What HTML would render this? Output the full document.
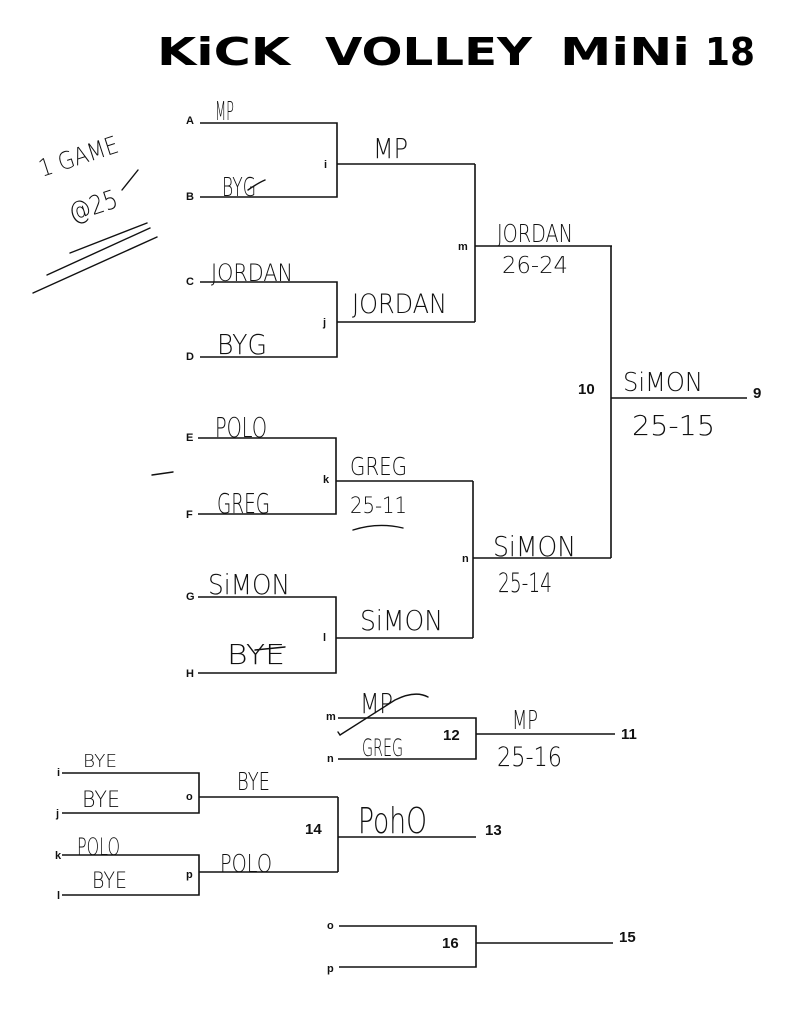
<!DOCTYPE html>
<html><head><meta charset="utf-8"><style>
html,body{margin:0;padding:0;background:#fff;}
svg{display:block;}
.l{stroke:#111;stroke-width:1.6;fill:none;}
.lb{font-family:"Liberation Sans",Arial,sans-serif;font-weight:bold;font-size:11px;fill:#111;}
.nb{font-family:"Liberation Sans",Arial,sans-serif;font-weight:bold;font-size:15px;fill:#111;}
.hw{font-family:"DejaVu Sans","Liberation Sans",Arial,sans-serif;font-weight:200;fill:#111;}
.tt{font-family:"DejaVu Sans","Liberation Sans",sans-serif;font-weight:bold;fill:#000;}
.pen{stroke:#111;stroke-width:1.4;fill:none;stroke-linecap:round;}
</style></head><body>
<svg width="800" height="1033" viewBox="0 0 800 1033" xmlns="http://www.w3.org/2000/svg">
<rect width="800" height="1033" fill="#fff"/>
<!-- Title -->
<text class="tt" x="157" y="65" font-size="38" textLength="133" lengthAdjust="spacingAndGlyphs">KiCK</text>
<text class="tt" x="325" y="65" font-size="38" textLength="207" lengthAdjust="spacingAndGlyphs">VOLLEY</text>
<text class="tt" x="560" y="65" font-size="38" textLength="130" lengthAdjust="spacingAndGlyphs">MiNi</text>
<text class="tt" x="705" y="65" font-size="38" textLength="50" lengthAdjust="spacingAndGlyphs">18</text>

<!-- Bracket lines -->
<path class="l" d="M200,123H337V197H200 M337,164H475"/>
<path class="l" d="M200,282H337V357H200 M337,322H475"/>
<path class="l" d="M475,164V322 M475,246H612"/>
<path class="l" d="M198,438H336V514H198 M336,481H473"/>
<path class="l" d="M198,597H336V673H198 M336,638H473"/>
<path class="l" d="M473,481V638 M473,558H611"/>
<path class="l" d="M611,246V558 M611,398H747"/>
<path class="l" d="M338,718H476V759H338 M476,734H615"/>
<path class="l" d="M62,773H199V813H62 M199,797H338"/>
<path class="l" d="M62,855H199V895H62 M199,872H338"/>
<path class="l" d="M338,797V872 M338,837H476"/>
<path class="l" d="M339,926H476V967H339 M476,943H613"/>

<!-- Labels -->
<text class="lb" x="186" y="124">A</text>
<text class="lb" x="186" y="200">B</text>
<text class="lb" x="324" y="168">i</text>
<text class="lb" x="186" y="285">C</text>
<text class="lb" x="186" y="360">D</text>
<text class="lb" x="323" y="326">j</text>
<text class="lb" x="458" y="250">m</text>
<text class="lb" x="186" y="441">E</text>
<text class="lb" x="186" y="518">F</text>
<text class="lb" x="323" y="483">k</text>
<text class="lb" x="186" y="600">G</text>
<text class="lb" x="186" y="677">H</text>
<text class="lb" x="323" y="641">l</text>
<text class="lb" x="462" y="562">n</text>
<text class="lb" x="326" y="720">m</text>
<text class="lb" x="327" y="762">n</text>
<text class="lb" x="57" y="776">i</text>
<text class="lb" x="56" y="817">j</text>
<text class="lb" x="55" y="859">k</text>
<text class="lb" x="57" y="899">l</text>
<text class="lb" x="186" y="800">o</text>
<text class="lb" x="186" y="878">p</text>
<text class="lb" x="327" y="929">o</text>
<text class="lb" x="327" y="972">p</text>

<text class="nb" x="578" y="394">10</text>
<text class="nb" x="753" y="398">9</text>
<text class="nb" x="443" y="740">12</text>
<text class="nb" x="621" y="739">11</text>
<text class="nb" x="305" y="834">14</text>
<text class="nb" x="485" y="835">13</text>
<text class="nb" x="442" y="948">16</text>
<text class="nb" x="619" y="942">15</text>

<!-- Handwriting -->
<g class="hw">
<text x="215" y="120" font-size="26" textLength="19" lengthAdjust="spacingAndGlyphs">MP</text>
<text x="222" y="196" font-size="26" textLength="34" lengthAdjust="spacingAndGlyphs">BYG</text>
<text x="373" y="158" font-size="28" textLength="35" lengthAdjust="spacingAndGlyphs">MP</text>
<text x="211" y="281" font-size="24" textLength="82" lengthAdjust="spacingAndGlyphs">JORDAN</text>
<text x="217" y="354" font-size="28" textLength="50" lengthAdjust="spacingAndGlyphs">BYG</text>
<text x="352" y="313" font-size="27" textLength="95" lengthAdjust="spacingAndGlyphs">JORDAN</text>
<text x="497" y="242" font-size="25" textLength="76" lengthAdjust="spacingAndGlyphs">JORDAN</text>
<text x="502" y="273" font-size="23" textLength="66" lengthAdjust="spacingAndGlyphs">26-24</text>
<text x="623" y="391" font-size="26" textLength="80" lengthAdjust="spacingAndGlyphs">SiMON</text>
<text x="632" y="435" font-size="28" textLength="83" lengthAdjust="spacingAndGlyphs">25-15</text>
<text x="215" y="437" font-size="28" textLength="52" lengthAdjust="spacingAndGlyphs">POLO</text>
<text x="217" y="513" font-size="28" textLength="53" lengthAdjust="spacingAndGlyphs">GREG</text>
<text x="350" y="475" font-size="25" textLength="57" lengthAdjust="spacingAndGlyphs">GREG</text>
<text x="350" y="513" font-size="22" textLength="57" lengthAdjust="spacingAndGlyphs">25-11</text>
<text x="208" y="594" font-size="28" textLength="82" lengthAdjust="spacingAndGlyphs">SiMON</text>
<text x="227" y="664" font-size="28" textLength="58" lengthAdjust="spacingAndGlyphs">BYE</text>
<text x="360" y="630" font-size="28" textLength="83" lengthAdjust="spacingAndGlyphs">SiMON</text>
<text x="493" y="556" font-size="28" textLength="83" lengthAdjust="spacingAndGlyphs">SiMON</text>
<text x="498" y="592" font-size="27" textLength="54" lengthAdjust="spacingAndGlyphs">25-14</text>
<text x="360" y="713" font-size="28" textLength="33" lengthAdjust="spacingAndGlyphs">MP</text>
<text x="362" y="756" font-size="24" textLength="41" lengthAdjust="spacingAndGlyphs">GREG</text>
<text x="512" y="729" font-size="26" textLength="26" lengthAdjust="spacingAndGlyphs">MP</text>
<text x="497" y="766" font-size="27" textLength="65" lengthAdjust="spacingAndGlyphs">25-16</text>
<text x="83" y="767" font-size="18" textLength="34" lengthAdjust="spacingAndGlyphs">BYE</text>
<text x="82" y="807" font-size="22" textLength="38" lengthAdjust="spacingAndGlyphs">BYE</text>
<text x="237" y="790" font-size="25" textLength="33" lengthAdjust="spacingAndGlyphs">BYE</text>
<text x="77" y="855" font-size="24" textLength="43" lengthAdjust="spacingAndGlyphs">POLO</text>
<text x="92" y="888" font-size="22" textLength="35" lengthAdjust="spacingAndGlyphs">BYE</text>
<text x="220" y="872" font-size="25" textLength="52" lengthAdjust="spacingAndGlyphs">POLO</text>
<text x="358" y="833" font-size="36" textLength="69" lengthAdjust="spacingAndGlyphs">PohO</text>
<text x="42" y="177" font-size="24" textLength="82" lengthAdjust="spacingAndGlyphs" transform="rotate(-18 42 177)">1 GAME</text>
<text x="72" y="222" font-size="26" textLength="50" lengthAdjust="spacingAndGlyphs" transform="rotate(-18 72 222)">@25</text>
</g>

<!-- pen marks -->
<path class="pen" d="M122,190L138,170"/>
<path class="pen" stroke-width="2.4" d="M70,253L147,223"/>
<path class="pen" stroke-width="2.4" d="M47,275L150,228"/>
<path class="pen" stroke-width="2.2" d="M33,293L157,237"/>
<path class="pen" d="M248,190Q258,183 265,180"/>
<path class="pen" d="M152,475L173,472"/>
<path class="pen" d="M353,530Q378,522 403,528"/>
<path class="pen" d="M340,735L395,700Q415,690 428,697"/>
<path class="pen" d="M340,735L338,732"/>
<path class="pen" d="M255,650L285,647"/>
</svg>
</body></html>
